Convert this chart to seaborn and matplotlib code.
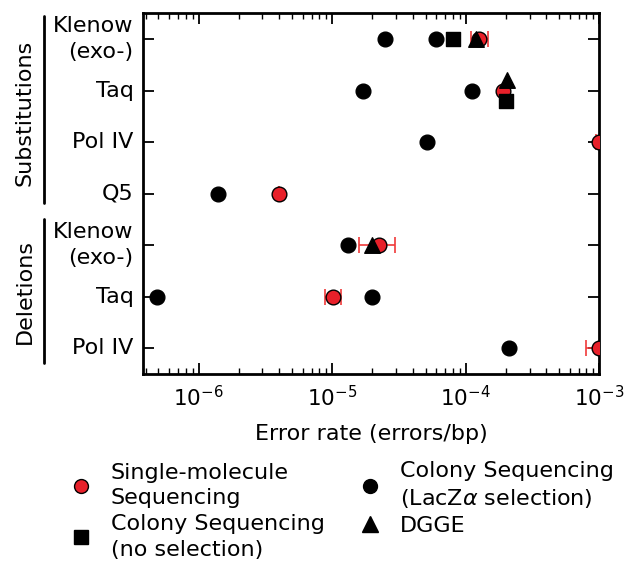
import matplotlib
matplotlib.use("Agg")
import matplotlib.pyplot as plt
import seaborn as sns
import numpy as np
import pandas as pd
from matplotlib.lines import Line2D

sns.set_style("ticks")
plt.rcParams['font.family'] = ['DejaVu Sans']
plt.rcParams['axes.unicode_minus'] = False
for k in ["text.color", "axes.labelcolor", "xtick.color", "ytick.color", "axes.edgecolor"]:
    plt.rcParams[k] = "black"

# ---- data ----
row_labels = ["Klenow\n(exo-)", "Taq", "Pol IV", "Q5", "Klenow\n(exo-)", "Taq", "Pol IV"]
groups = ["Substitutions", "Deletions"]

# Single-molecule sequencing (red) with error bars
sm_rows = [0, 1, 2, 3, 4, 5, 6]
sm_rate = [1.26e-4, 1.89e-4, 9.9e-4, 4.0e-6, 2.24e-5, 1.02e-5, 9.9e-4]
sm_low = [1.09e-4, 1.89e-4, 9.4e-4, 4.0e-6, 1.58e-5, 8.8e-6, 7.9e-4]
sm_high = [1.46e-4, 1.89e-4, 1.05e-3, 4.0e-6, 2.94e-5, 1.17e-5, 1.25e-3]

# Colony sequencing (LacZ alpha selection), black circles
lacz_rows = [0, 0, 1, 1, 2, 3, 4, 5, 5, 6]
lacz_rate = [2.48e-5, 6.0e-5, 1.7e-5, 1.11e-4, 5.1e-5, 1.39e-6, 1.31e-5, 4.9e-7, 2.0e-5, 2.12e-4]

# Colony sequencing (no selection), squares
nosel_rows = [0, 1]
nosel_rate = [8.0e-5, 2.0e-4]
nosel_dodge = [0.0, 0.2]

# DGGE, triangles
dgge_rows = [0, 1, 4]
dgge_rate = [1.19e-4, 2.02e-4, 1.97e-5]
dgge_dodge = [0.0, -0.2, 0.0]

red = "#e8202a"
FS = 16

fig = plt.figure(figsize=(6.24, 5.69), dpi=100)
ax = fig.add_axes([0.2297, 0.3427, 0.7308, 0.634])

sm = pd.DataFrame({"row": sm_rows, "rate": sm_rate})
lacz = pd.DataFrame({"row": lacz_rows, "rate": lacz_rate})
nosel = pd.DataFrame({"row": np.array(nosel_rows) + np.array(nosel_dodge), "rate": nosel_rate})
dgge = pd.DataFrame({"row": np.array(dgge_rows) + np.array(dgge_dodge), "rate": dgge_rate})

xerr = np.array([np.array(sm_rate) - np.array(sm_low), np.array(sm_high) - np.array(sm_rate)])
ax.errorbar(sm["rate"], sm["row"], xerr=xerr, fmt="none", ecolor="#f03a3a",
            elinewidth=1.2, capsize=5.6, capthick=1.2, zorder=2)

kw = dict(ax=ax, edgecolor="black", linewidth=1.0, legend=False, clip_on=True)
sns.scatterplot(data=sm, x="rate", y="row", color=red, s=112, marker="o", zorder=3, **kw)
sns.scatterplot(data=lacz, x="rate", y="row", color="black", s=112, marker="o", zorder=4, **kw)
sns.scatterplot(data=nosel, x="rate", y="row", color="black", s=100, marker="s", zorder=4, **kw)
sns.scatterplot(data=dgge, x="rate", y="row", color="black", s=125, marker="^", zorder=5, **kw)

ax.set_xscale("log")
ax.set_xlim(3.85e-7, 1.0e-3)
ax.set_ylim(6.5, -0.5)
ax.set_yticks(range(len(row_labels)))
ax.set_yticklabels(row_labels, fontsize=FS, linespacing=1.35, va="center")
ax.set_xticks([1e-6, 1e-5, 1e-4, 1e-3])
ax.set_xticklabels(["$10^{-6}$", "$10^{-5}$", "$10^{-4}$", "$10^{-3}$"], fontsize=15.5)
ax.set_ylabel("")
ax.set_xlabel("Error rate (errors/bp)", fontsize=FS, labelpad=10)

for sp in ax.spines.values():
    sp.set_linewidth(2.0)
    sp.set_visible(True)
ax.tick_params(axis="both", which="major", direction="in", length=8, width=1.3,
               top=True, right=True)
ax.tick_params(axis="x", which="major", pad=8)
ax.tick_params(axis="y", which="major", pad=7)
ax.tick_params(axis="x", which="minor", direction="in", length=4, width=1.0, top=True)
ax.tick_params(axis="y", which="minor", left=False, right=False)

# group brackets
fig.add_artist(Line2D([44.3 / 624, 44.3 / 624], [1 - 16 / 569, 1 - 203.3 / 569],
                      color="black", lw=2.0))
fig.add_artist(Line2D([44.3 / 624, 44.3 / 624], [1 - 219 / 569, 1 - 363 / 569],
                      color="black", lw=2.0))
fig.text(25 / 624, 1 - 112.5 / 569, groups[0], rotation=90, ha="center", va="center", fontsize=FS)
fig.text(25 / 624, 1 - 291.7 / 569, groups[1], rotation=90, ha="center", va="center", fontsize=FS)

handles = [
    Line2D([], [], ls="none", marker="o", markersize=10, markerfacecolor=red, markeredgecolor="black"),
    Line2D([], [], ls="none", marker="s", markersize=10, markerfacecolor="black", markeredgecolor="black"),
    Line2D([], [], ls="none", marker="o", markersize=10, markerfacecolor="black", markeredgecolor="black"),
    Line2D([], [], ls="none", marker="^", markersize=11, markerfacecolor="black", markeredgecolor="black"),
]
labels = ["Single-molecule\nSequencing", "Colony Sequencing\n(no selection)",
          "Colony Sequencing\n(LacZ$\\alpha$ selection)", "DGGE"]
leg = fig.legend(handles, labels, ncol=2, frameon=False, fontsize=FS, loc="upper left",
                 bbox_to_anchor=(61 / 624, 1 - 452 / 569), borderaxespad=0, borderpad=0.4,
                 handletextpad=0.84, columnspacing=1.55, labelspacing=0.27, handlelength=1.0)
for t in leg.get_texts():
    t.set_linespacing(1.35)

fig.savefig("out.png", dpi=100)
